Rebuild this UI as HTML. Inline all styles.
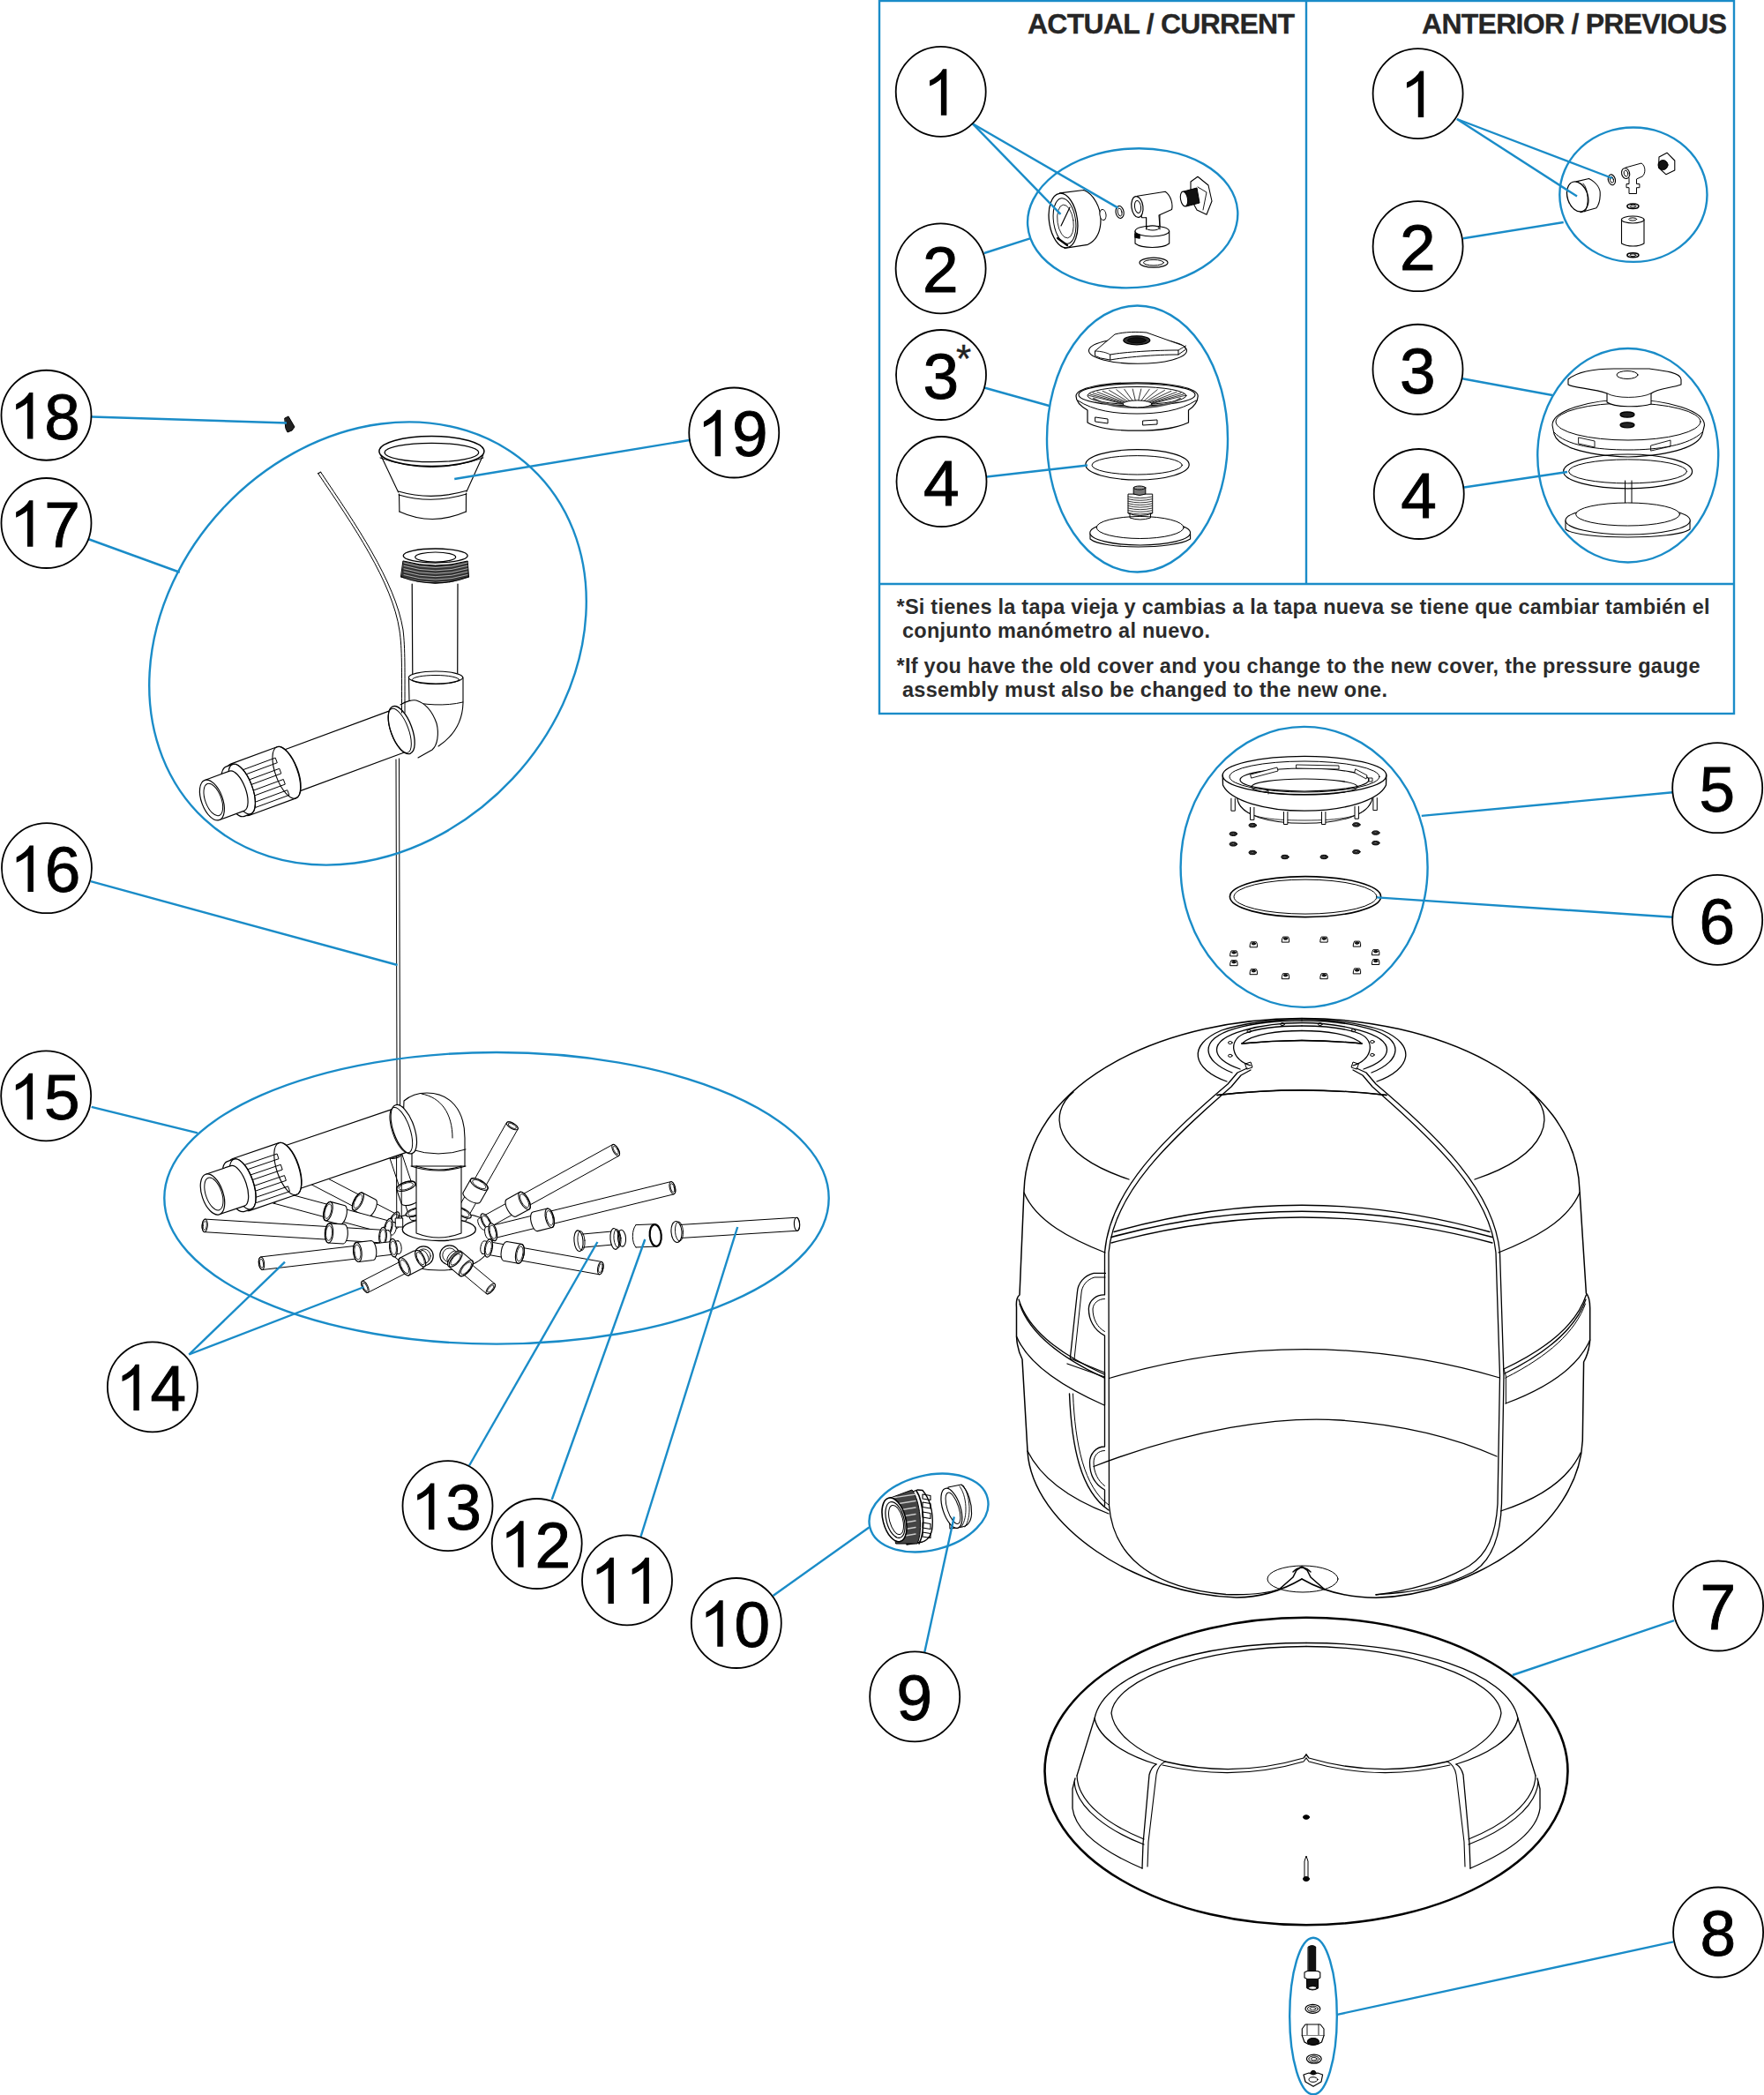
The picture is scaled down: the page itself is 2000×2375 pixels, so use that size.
<!DOCTYPE html>
<html><head><meta charset="utf-8"><style>
html,body{margin:0;padding:0;background:#fff;}
svg{display:block;}
.n{font-family:"Liberation Sans",sans-serif;font-size:73px;fill:#000;stroke:#000;stroke-width:0.9px;}
.h{font-family:"Liberation Sans",sans-serif;font-weight:bold;font-size:32px;fill:#262626;stroke:#262626;stroke-width:0.3px;}
.t{font-family:"Liberation Sans",sans-serif;font-weight:bold;font-size:23.5px;fill:#2b2b2b;}
</style></head><body>
<svg width="2000" height="2375" viewBox="0 0 2000 2375">

<g fill="none" stroke="#1a8cc8" stroke-width="2.4"><rect x="997" y="1" width="969" height="808"/><line x1="1481" y1="1" x2="1481" y2="662"/><line x1="997" y1="662" x2="1966" y2="662"/></g>
<text class="h" x="1165" y="38.3" textLength="303" lengthAdjust="spacing">ACTUAL / CURRENT</text>
<text class="h" x="1612" y="38.3" textLength="346" lengthAdjust="spacing">ANTERIOR / PREVIOUS</text>
<text class="t" x="1016.5" y="695.7" textLength="922" lengthAdjust="spacing">*Si tienes la tapa vieja y cambias a la tapa nueva se tiene que cambiar también el</text>
<text class="t" x="1023" y="722.5" textLength="349" lengthAdjust="spacing">conjunto manómetro al nuevo.</text>
<text class="t" x="1016.5" y="763.25" textLength="911" lengthAdjust="spacing">*If you have the old cover and you change to the new cover, the pressure gauge</text>
<text class="t" x="1023" y="790" textLength="550" lengthAdjust="spacing">assembly must also be changed to the new one.</text>
<g fill="none" stroke="#000" stroke-linejoin="round" stroke-linecap="round">
<path d="M1217,1238 C1188,1262 1193,1308 1280,1337" stroke-width="1.3" />
<path d="M1217,1238 C1188,1262 1193,1308 1280,1337" stroke-width="1.3" transform="translate(2952,0) scale(-1,1)"/>
<path d="M1161,1352 C1175,1385 1215,1405 1253,1420" stroke-width="1.3" />
<path d="M1161,1352 C1175,1385 1215,1405 1253,1420" stroke-width="1.3" transform="translate(2952,0) scale(-1,1)"/>
<path d="M1391,1226 C1352,1212 1345,1185 1385,1168 C1410,1160 1440,1156 1476,1155" stroke-width="1.3" />
<path d="M1391,1226 C1352,1212 1345,1185 1385,1168 C1410,1160 1440,1156 1476,1155" stroke-width="1.3" transform="translate(2952,0) scale(-1,1)"/>
<path d="M1397,1216 C1363,1203 1358,1178 1400,1166 C1425,1159 1450,1157 1476,1157" stroke-width="1.3" />
<path d="M1397,1216 C1363,1203 1358,1178 1400,1166 C1425,1159 1450,1157 1476,1157" stroke-width="1.3" transform="translate(2952,0) scale(-1,1)"/>
<path d="M1406,1212 C1372,1200 1368,1180 1410,1168 C1432,1162 1452,1159.5 1476,1159.5" stroke-width="1.3" />
<path d="M1406,1212 C1372,1200 1368,1180 1410,1168 C1432,1162 1452,1159.5 1476,1159.5" stroke-width="1.3" transform="translate(2952,0) scale(-1,1)"/>
<path d="M1418,1208 C1396,1201 1392,1180 1410,1172 C1430,1164 1455,1163 1476,1163" stroke-width="1.3" />
<path d="M1418,1208 C1396,1201 1392,1180 1410,1172 C1430,1164 1455,1163 1476,1163" stroke-width="1.3" transform="translate(2952,0) scale(-1,1)"/>
<path d="M1408,1183 C1420,1172 1450,1168.5 1476,1168.5" stroke-width="1.3" />
<path d="M1408,1183 C1420,1172 1450,1168.5 1476,1168.5" stroke-width="1.3" transform="translate(2952,0) scale(-1,1)"/>
<path d="M1408,1183 Q1440,1180 1476,1179.5" stroke-width="1.3" />
<path d="M1408,1183 Q1440,1180 1476,1179.5" stroke-width="1.3" transform="translate(2952,0) scale(-1,1)"/>
<path d="M1380,1241.5 Q1430,1236 1476,1236" stroke-width="1.3" />
<path d="M1380,1241.5 Q1430,1236 1476,1236" stroke-width="1.3" transform="translate(2952,0) scale(-1,1)"/>
<path d="M1412,1206 L1418,1204 L1420,1210 L1414,1212 Z" stroke-width="1.0" />
<path d="M1412,1206 L1418,1204 L1420,1210 L1414,1212 Z" stroke-width="1.0" transform="translate(2952,0) scale(-1,1)"/>
<path d="M1476,1154.5 C1330,1154 1165,1220 1161,1350 L1156,1468 C1152,1471 1152,1476 1152.5,1482 L1152.5,1515 C1153,1525 1156,1535 1159,1541 L1165,1645 C1170,1730 1290,1808 1402,1811 Q1440,1811 1476,1790" stroke-width="1.5" />
<path d="M1155,1473 C1165,1505 1195,1532 1252,1558" stroke-width="1.3" />
<path d="M1156,1478 C1166,1508 1196,1536 1252,1562" stroke-width="1.3" />
<path d="M1152.5,1515 C1165,1545 1200,1570 1252,1593" stroke-width="1.3" />
<path d="M1165,1645 C1180,1675 1210,1698 1257,1716" stroke-width="1.3" />
<path d="M1414,1211 L1403,1216 L1392,1229 C1320,1290 1258,1350 1252.5,1420 L1252.5,1440" stroke-width="1.3" />
<path d="M1418,1213 L1407,1219 L1396,1232 C1326,1293 1263,1352 1257,1420 L1257.5,1707" stroke-width="1.3" />
<path d="M1257.5,1707 C1262,1760 1300,1800 1390,1807.5 Q1430,1809 1452,1801" stroke-width="1.3" />
<path d="M1476,1154.5 C1622,1154 1787,1220 1791,1350 L1798.4,1466 C1802,1470 1802.7,1476 1802.7,1483 L1802.7,1519 C1802,1528 1799,1538 1795.6,1544 L1794.3,1633 C1790,1730 1670,1808 1560,1811.3 Q1512,1811 1476,1790" stroke-width="1.5" />
<path d="M1798.4,1468 C1788,1500 1758,1527 1705,1552" stroke-width="1.3" />
<path d="M1798,1473 C1787,1505 1757,1532 1706,1557" stroke-width="1.3" />
<path d="M1797.5,1478 C1786,1510 1756,1537 1707,1562" stroke-width="1.0" />
<path d="M1802.7,1519 C1790,1548 1758,1572 1707,1591" stroke-width="1.3" />
<path d="M1792,1647 C1778,1677 1748,1698 1701.5,1713" stroke-width="1.3" />
<path d="M1538,1211 L1549,1216 L1560,1229 C1632,1290 1694,1350 1700.5,1420 L1705,1560 L1702.5,1705 C1701,1745 1690,1770 1670,1782 C1640,1798 1600,1806 1560,1807.6" stroke-width="1.3" />
<path d="M1534,1213 L1545,1219 L1556,1232 C1626,1293 1689,1352 1696,1420 L1700.5,1560 L1698,1705 C1696,1740 1686,1762 1666,1775 C1636,1793 1600,1803 1560,1808" stroke-width="1.3" />
<path d="M1705,1552 L1707.4,1560 L1707.4,1591" stroke-width="1.0" />
<path d="M1263,1396.5 Q1476,1336 1689,1396.5" stroke-width="1.3" />
<path d="M1260,1402.5 Q1476,1344 1692,1402.5" stroke-width="1.6" />
<path d="M1260,1409 Q1476,1351 1692,1409" stroke-width="1.3" />
<path d="M1257.5,1562.5 Q1478,1497 1700.5,1562" stroke-width="1.3" />
<path d="M1240,1662.5 C1350,1620 1450,1605 1520,1610 C1590,1615 1650,1630 1697,1651" stroke-width="1.3" />
<path d="M1408,1183 Q1476,1176 1544,1183" stroke-width="1.3" />
<path d="M1380,1241.5 Q1476,1230 1572,1241.5" stroke-width="1.3" />
<path d="M1252.5,1440 L1252.5,1467.9 C1243,1467.5 1235,1474 1234.4,1483 C1234,1495 1240,1508 1252.5,1514.1 L1252.5,1640 C1243,1640 1235.5,1648 1235.5,1658 C1235.5,1672 1242,1683 1252.5,1689 L1252.5,1707" stroke-width="1.3" />
<path d="M1252.5,1472.5 C1245,1472.5 1239.5,1477.5 1239,1484 C1239,1495 1244,1505 1252.5,1509.5" stroke-width="1.0" />
<path d="M1252.5,1644.5 C1245,1644.5 1240,1650 1240,1658 C1240,1669 1245,1679 1252.5,1684.5" stroke-width="1.0" />
<path d="M1253.4,1443.4 L1240,1443.4 C1229,1446 1222,1455 1221.4,1465 L1213.3,1540 L1252.5,1556 L1252.5,1593" stroke-width="1.3" />
<path d="M1253,1448 L1241,1448 C1232,1450.5 1226.5,1458 1226,1466 L1218,1541" stroke-width="1.0" />
<path d="M1210,1546 L1252.5,1561" stroke-width="1.3" />
<path d="M1212.5,1580 C1215,1640 1225,1690 1257,1712" stroke-width="1.4" />
<path d="M1216.5,1580 C1219,1638 1229,1686 1257,1706" stroke-width="1.0" />
<ellipse cx="1394.8" cy="1182" rx="2.3" ry="1.5" stroke-width="1"/>
<ellipse cx="1394.8" cy="1196.8" rx="2.3" ry="1.5" stroke-width="1"/>
<ellipse cx="1416.2" cy="1169" rx="2.3" ry="1.5" stroke-width="1"/>
<ellipse cx="1454" cy="1161.1" rx="2.3" ry="1.5" stroke-width="1"/>
<ellipse cx="1496.8" cy="1161.1" rx="2.3" ry="1.5" stroke-width="1"/>
<ellipse cx="1534.4" cy="1168.3" rx="2.3" ry="1.5" stroke-width="1"/>
<ellipse cx="1555.9" cy="1181" rx="2.3" ry="1.5" stroke-width="1"/>
<ellipse cx="1555.9" cy="1195.9" rx="2.3" ry="1.5" stroke-width="1"/>
<ellipse cx="1477" cy="1790" rx="40" ry="15" stroke-width="1"/>
<path d="M1450,1802 L1466,1788 L1470,1780 L1476,1776 L1482,1780 L1486,1788 L1502,1802" stroke-width="1.6" />
<path d="M1466,1782 Q1476,1772 1486,1782" stroke-width="1.4" />
</g>
<g fill="none" stroke="#000" stroke-linejoin="round" stroke-linecap="round">
<ellipse cx="1481" cy="2008" rx="296.5" ry="174.3" stroke-width="2.6"/>
<path d="M1481,1862.5 C1360,1862.5 1252,1895 1241,1948 C1246,1972 1278,1990 1311,2000" stroke-width="1.3"/>
<path d="M1481,1862.5 C1360,1862.5 1252,1895 1241,1948 C1246,1972 1278,1990 1311,2000" stroke-width="1.3" transform="translate(2962,0) scale(-1,1)"/>
<path d="M1481,1866.5 C1366,1866.5 1264,1903 1260,1942 C1263,1966 1292,1986 1321,1997" stroke-width="1.3"/>
<path d="M1481,1866.5 C1366,1866.5 1264,1903 1260,1942 C1263,1966 1292,1986 1321,1997" stroke-width="1.3" transform="translate(2962,0) scale(-1,1)"/>
<path d="M1321,1997 Q1400,2016 1478,1993 L1481,1989" stroke-width="1.3"/>
<path d="M1321,1997 Q1400,2016 1478,1993 L1481,1989" stroke-width="1.3" transform="translate(2962,0) scale(-1,1)"/>
<path d="M1318,2001 Q1400,2020 1478,1997 L1481,1993" stroke-width="1.1"/>
<path d="M1318,2001 Q1400,2020 1478,1997 L1481,1993" stroke-width="1.1" transform="translate(2962,0) scale(-1,1)"/>
<path d="M1311,2000 C1306,2003 1304,2008 1303,2012 L1296,2090 L1295,2118" stroke-width="1.3"/>
<path d="M1311,2000 C1306,2003 1304,2008 1303,2012 L1296,2090 L1295,2118" stroke-width="1.3" transform="translate(2962,0) scale(-1,1)"/>
<path d="M1321,1997 C1315,2000 1312,2006 1311,2012 L1302,2088 L1301,2116" stroke-width="1.1"/>
<path d="M1321,1997 C1315,2000 1312,2006 1311,2012 L1302,2088 L1301,2116" stroke-width="1.1" transform="translate(2962,0) scale(-1,1)"/>
<path d="M1241,1948 L1221,2013" stroke-width="1.3"/>
<path d="M1241,1948 L1221,2013" stroke-width="1.3" transform="translate(2962,0) scale(-1,1)"/>
<path d="M1221,2013 C1222,2045 1260,2070 1297,2085" stroke-width="1.2"/>
<path d="M1221,2013 C1222,2045 1260,2070 1297,2085" stroke-width="1.2" transform="translate(2962,0) scale(-1,1)"/>
<path d="M1218,2020 C1220,2050 1258,2076 1297,2091" stroke-width="1.2"/>
<path d="M1218,2020 C1220,2050 1258,2076 1297,2091" stroke-width="1.2" transform="translate(2962,0) scale(-1,1)"/>
<path d="M1219,2016 L1216,2028 L1216,2050 C1220,2080 1260,2103 1295,2118" stroke-width="1.3"/>
<path d="M1219,2016 L1216,2028 L1216,2050 C1220,2080 1260,2103 1295,2118" stroke-width="1.3" transform="translate(2962,0) scale(-1,1)"/>
<ellipse cx="1481" cy="2060" rx="3.5" ry="2.3" fill="#000" stroke-width="1"/>
<path d="M1479,2128 L1479,2110 L1481,2104 L1483,2110 L1483,2128" stroke-width="1"/>
<ellipse cx="1481" cy="2130" rx="3.5" ry="2.5" fill="#000" stroke-width="1"/>
</g><g fill="none" stroke="#000" stroke-linejoin="round" stroke-linecap="round">
<ellipse cx="489.4" cy="511.5" rx="59.5" ry="17" transform="rotate(0 489.4 511.5)" stroke-width="1.5" fill="none"/>
<ellipse cx="489.4" cy="513" rx="53.3" ry="10.7" transform="rotate(0 489.4 513)" stroke-width="1.2" fill="none"/>
<path d="M431,519 Q489,540 548,519" stroke-width="1.0" />
<path d="M431.7,516 L451.6,558" stroke-width="1.1" />
<path d="M547.7,516 L529,557.3" stroke-width="1.1" />
<path d="M451.6,557 Q489.4,568 529,556.3" stroke-width="1.1" />
<path d="M452,561 Q489.4,572 529,560" stroke-width="1.1" />
<path d="M452.5,560 L452.9,580" stroke-width="1.1" />
<path d="M528.5,559 L528.4,580" stroke-width="1.1" />
<path d="M452.9,580 Q490,597 528.4,580" stroke-width="1.2" />
<ellipse cx="493.7" cy="630" rx="36.5" ry="8" transform="rotate(0 493.7 630)" stroke-width="1.3" fill="none"/>
<ellipse cx="493.7" cy="631.5" rx="23" ry="5.5" transform="rotate(0 493.7 631.5)" stroke-width="1.2" fill="none"/>
<path d="M457.3,636 Q493.7,646 530.2,636 L531.5,654 Q493.7,668 454.8,654 Z" fill="#333" stroke-width="1"/>
<path d="M458,638.0 Q493.7,649.0 530,638.0" stroke-width="0.6" stroke="#fff"/>
<path d="M458,641.4 Q493.7,652.4 530,641.4" stroke-width="0.6" stroke="#fff"/>
<path d="M458,644.8 Q493.7,655.8 530,644.8" stroke-width="0.6" stroke="#fff"/>
<path d="M458,648.2 Q493.7,659.2 530,648.2" stroke-width="0.6" stroke="#fff"/>
<path d="M458,651.6 Q493.7,662.6 530,651.6" stroke-width="0.6" stroke="#fff"/>
<path d="M458,655.0 Q493.7,666.0 530,655.0" stroke-width="0.6" stroke="#fff"/>
<path d="M458,658.4 Q493.7,669.4 530,658.4" stroke-width="0.6" stroke="#fff"/>
<path d="M454.8,654 Q493.7,668 531.5,654" stroke-width="1.3" />
<path d="M467.2,662 L467.8,766" stroke-width="1.2" />
<path d="M519,662 L518.7,766" stroke-width="1.2" />
<path d="M463.5,768 L463.5,796 C458,800 452,802 448,806 L470,860 C480,858 492,852 500,845 C515,840 525,820 525,796 L525,768 Z" stroke-width="1.0" fill="#fff" stroke="none"/>
<path d="M463.5,768 L464,795" stroke-width="1.1" />
<path d="M525,768 L525,797 C524.5,815 518,832 497,846" stroke-width="1.1" />
<path d="M464,795 C480,799 505,801 524.8,796" stroke-width="1.0" />
<ellipse cx="494" cy="768" rx="30.7" ry="7" transform="rotate(0 494 768)" stroke-width="1.2" fill="#fff"/>
<ellipse cx="494" cy="770.5" rx="26.5" ry="5" transform="rotate(0 494 770.5)" stroke-width="1.0" fill="none"/>
<path d="M454,799 C460,795 468,793 472,794 C482,797 490,806 495,820 C498,832 496,845 490,850 L474,859" stroke-width="1.1" fill="#fff"/>
<path d="M331.6,899.9 L461.0,852.0 A10.5,25.0 -20.3 0 0 443.7,805.1 L314.3,853.0 A10.5,25.0 -20.3 0 0 331.6,899.9 Z" fill="#fff" stroke-width="1.2"/>
<path d="M283.0,924.3 L335.6,904.9 A13.0,31.0 -20.3 0 0 314.1,846.7 L261.5,866.1 A13.0,31.0 -20.3 0 0 283.0,924.3 Z" fill="#fff" stroke-width="1.2"/>
<ellipse cx="324.8" cy="875.8" rx="12.4" ry="31.0" transform="rotate(-20.3 324.8 875.8)" stroke-width="1.1" fill="none"/>
<path d="M274.7,873.0 L312.2,859.1 L314.3,864.7 L276.8,878.6 Z" stroke-width="1.0" />
<path d="M279.2,885.2 L316.8,871.3 L318.8,876.9 L281.3,890.8 Z" stroke-width="1.0" />
<path d="M283.7,897.4 L321.3,883.5 L323.3,889.1 L285.8,903.0 Z" stroke-width="1.0" />
<path d="M288.3,909.6 L325.8,895.7 L327.9,901.3 L290.3,915.2 Z" stroke-width="1.0" />
<path d="M277.1,925.4 L284.6,922.6 A12.6,30.0 -20.3 0 0 263.8,866.4 L256.3,869.1 A12.6,30.0 -20.3 0 0 277.1,925.4 Z" fill="#fff" stroke-width="1.2"/>
<ellipse cx="274.2" cy="894.5" rx="12.0" ry="30.0" transform="rotate(-20.3 274.2 894.5)" stroke-width="1.1" fill="none"/>
<path d="M248.7,929.5 L276.9,919.1 A10.1,24.0 -20.3 0 0 260.2,874.1 L232.1,884.5 A10.1,24.0 -20.3 0 0 248.7,929.5 Z" fill="#fff" stroke-width="1.2"/>
<ellipse cx="240.4" cy="907.0" rx="12.0" ry="24.0" transform="rotate(-20.3 240.4 907.0)" stroke-width="1.2" fill="#fff"/>
<ellipse cx="241.8" cy="906.5" rx="9.1" ry="19.2" transform="rotate(-20.3 241.8 906.5)" stroke-width="1.0" fill="none"/>
<ellipse cx="455.2" cy="827.6" rx="12.0" ry="28.5" transform="rotate(-20.3 455.2 827.6)" stroke-width="1.3" fill="#fff"/>
<ellipse cx="453.2" cy="828.3" rx="10.0" ry="26.5" transform="rotate(-20.3 453.2 828.3)" stroke-width="1.0" fill="none"/>
<path d="M360.6,536.7 C400,595 445,660 453,715 C456,735 455.5,760 455.5,808" stroke-width="1.0" />
<path d="M363.6,535.2 C403,594 448,659 457,714 C459.5,735 459,760 459,808" stroke-width="1.0" />
<path d="M360.6,536.7 L363.6,535.2" stroke-width="1.2" />
<path d="M449,861 L450.2,1292" stroke-width="1.0" />
<path d="M452.5,860 L453.7,1290" stroke-width="1.0" />
</g><g fill="none" stroke="#000" stroke-linejoin="round" stroke-linecap="round">
<path d="M323,474 L327,472 L334,484 L331,488 L326,490 L324,486 Z" fill="#222" stroke-width="1"/>
<path d="M437,1395 C440,1378 470,1374 498,1374 C526,1374 556,1378 559,1395 L559,1402 C556,1430 530,1440 498,1440 C466,1440 440,1430 437,1402 Z" fill="#fff" stroke-width="1.1"/>
<path d="M478.9,1377.7 L455.5,1307.5 A3.1,7.3 -108.4 0 0 441.7,1312.1 L465.1,1382.3 A3.1,7.3 -108.4 0 0 478.9,1377.7 Z" fill="#fff" stroke-width="1.0"/>
<ellipse cx="448.6" cy="1309.8" rx="3.1" ry="7.3" transform="rotate(-108.4 448.6 1309.8)" stroke-width="1.0" fill="none"/>
<ellipse cx="448.6" cy="1309.8" rx="2.0" ry="5.1" transform="rotate(-108.4 448.6 1309.8)" stroke-width="0.8" fill="none"/>
<path d="M476.2,1357.4 L470.8,1341.3 A4.7,11.1 -108.4 0 0 449.7,1348.3 L455.1,1364.4 A4.7,11.1 -108.4 0 0 476.2,1357.4 Z" fill="#fff" stroke-width="1.1"/>
<ellipse cx="460.3" cy="1344.8" rx="4.7" ry="11.1" transform="rotate(-108.4 460.3 1344.8)" stroke-width="1.1" fill="none"/>
<ellipse cx="460.3" cy="1344.8" rx="3.5" ry="8.5" transform="rotate(-108.4 460.3 1344.8)" stroke-width="0.8" fill="none"/>
<ellipse cx="470.1" cy="1374.3" rx="4.3" ry="10.3" transform="rotate(-108.4 470.1 1374.3)" stroke-width="1.2" fill="#fff"/>
<ellipse cx="470.1" cy="1374.3" rx="3.3" ry="7.8" transform="rotate(-108.4 470.1 1374.3)" stroke-width="0.8" fill="none"/>
<path d="M528.4,1383.6 L587.2,1279.9 A3.1,7.3 -60.4 0 0 574.4,1272.7 L515.6,1376.4 A3.1,7.3 -60.4 0 0 528.4,1383.6 Z" fill="#fff" stroke-width="1.0"/>
<ellipse cx="580.8" cy="1276.3" rx="3.1" ry="7.3" transform="rotate(-60.4 580.8 1276.3)" stroke-width="1.0" fill="none"/>
<ellipse cx="580.8" cy="1276.3" rx="2.0" ry="5.1" transform="rotate(-60.4 580.8 1276.3)" stroke-width="0.8" fill="none"/>
<path d="M544.5,1362.8 L552.9,1348.0 A4.7,11.1 -60.4 0 0 533.6,1337.0 L525.2,1351.8 A4.7,11.1 -60.4 0 0 544.5,1362.8 Z" fill="#fff" stroke-width="1.1"/>
<ellipse cx="543.3" cy="1342.5" rx="4.7" ry="11.1" transform="rotate(-60.4 543.3 1342.5)" stroke-width="1.1" fill="none"/>
<ellipse cx="543.3" cy="1342.5" rx="3.5" ry="8.5" transform="rotate(-60.4 543.3 1342.5)" stroke-width="0.8" fill="none"/>
<ellipse cx="525.0" cy="1374.8" rx="4.3" ry="10.3" transform="rotate(-60.4 525.0 1374.8)" stroke-width="1.2" fill="#fff"/>
<ellipse cx="525.0" cy="1374.8" rx="3.3" ry="7.8" transform="rotate(-60.4 525.0 1374.8)" stroke-width="0.8" fill="none"/>
<path d="M455.4,1379.5 L353.4,1326.5 A3.1,7.3 -152.5 0 0 346.6,1339.5 L448.6,1392.5 A3.1,7.3 -152.5 0 0 455.4,1379.5 Z" fill="#fff" stroke-width="1.0"/>
<ellipse cx="350.0" cy="1333.0" rx="3.1" ry="7.3" transform="rotate(-152.5 350.0 1333.0)" stroke-width="1.0" fill="none"/>
<ellipse cx="350.0" cy="1333.0" rx="2.0" ry="5.1" transform="rotate(-152.5 350.0 1333.0)" stroke-width="0.8" fill="none"/>
<path d="M426.1,1360.0 L411.0,1352.2 A4.7,11.1 -152.5 0 0 400.8,1371.9 L415.9,1379.7 A4.7,11.1 -152.5 0 0 426.1,1360.0 Z" fill="#fff" stroke-width="1.1"/>
<ellipse cx="405.9" cy="1362.0" rx="4.7" ry="11.1" transform="rotate(-152.5 405.9 1362.0)" stroke-width="1.1" fill="none"/>
<ellipse cx="405.9" cy="1362.0" rx="3.5" ry="8.5" transform="rotate(-152.5 405.9 1362.0)" stroke-width="0.8" fill="none"/>
<ellipse cx="446.7" cy="1383.2" rx="4.3" ry="10.3" transform="rotate(-152.5 446.7 1383.2)" stroke-width="1.2" fill="#fff"/>
<ellipse cx="446.7" cy="1383.2" rx="3.3" ry="7.8" transform="rotate(-152.5 446.7 1383.2)" stroke-width="0.8" fill="none"/>
<path d="M447.9,1385.9 L313.9,1349.9 A3.1,7.3 -165.0 0 0 310.1,1364.1 L444.1,1400.1 A3.1,7.3 -165.0 0 0 447.9,1385.9 Z" fill="#fff" stroke-width="1.0"/>
<ellipse cx="312.0" cy="1357.0" rx="3.1" ry="7.3" transform="rotate(-165.0 312.0 1357.0)" stroke-width="1.0" fill="none"/>
<ellipse cx="312.0" cy="1357.0" rx="2.0" ry="5.1" transform="rotate(-165.0 312.0 1357.0)" stroke-width="0.8" fill="none"/>
<path d="M391.2,1366.8 L374.8,1362.4 A4.7,11.1 -165.0 0 0 369.1,1383.8 L385.5,1388.2 A4.7,11.1 -165.0 0 0 391.2,1366.8 Z" fill="#fff" stroke-width="1.1"/>
<ellipse cx="371.9" cy="1373.1" rx="4.7" ry="11.1" transform="rotate(-165.0 371.9 1373.1)" stroke-width="1.1" fill="none"/>
<ellipse cx="371.9" cy="1373.1" rx="3.5" ry="8.5" transform="rotate(-165.0 371.9 1373.1)" stroke-width="0.8" fill="none"/>
<ellipse cx="440.2" cy="1391.4" rx="4.3" ry="10.3" transform="rotate(-165.0 440.2 1391.4)" stroke-width="1.2" fill="#fff"/>
<ellipse cx="440.2" cy="1391.4" rx="3.3" ry="7.8" transform="rotate(-165.0 440.2 1391.4)" stroke-width="0.8" fill="none"/>
<path d="M549.5,1394.4 L701.7,1310.3 A3.1,7.3 -28.9 0 0 694.7,1297.5 L542.5,1381.6 A3.1,7.3 -28.9 0 0 549.5,1394.4 Z" fill="#fff" stroke-width="1.0"/>
<ellipse cx="698.2" cy="1303.9" rx="3.1" ry="7.3" transform="rotate(-28.9 698.2 1303.9)" stroke-width="1.0" fill="none"/>
<ellipse cx="698.2" cy="1303.9" rx="2.0" ry="5.1" transform="rotate(-28.9 698.2 1303.9)" stroke-width="0.8" fill="none"/>
<path d="M585.1,1379.1 L600.0,1370.9 A4.7,11.1 -28.9 0 0 589.2,1351.4 L574.3,1359.7 A4.7,11.1 -28.9 0 0 585.1,1379.1 Z" fill="#fff" stroke-width="1.1"/>
<ellipse cx="594.6" cy="1361.2" rx="4.7" ry="11.1" transform="rotate(-28.9 594.6 1361.2)" stroke-width="1.1" fill="none"/>
<ellipse cx="594.6" cy="1361.2" rx="3.5" ry="8.5" transform="rotate(-28.9 594.6 1361.2)" stroke-width="0.8" fill="none"/>
<ellipse cx="551.3" cy="1385.1" rx="4.3" ry="10.3" transform="rotate(-28.9 551.3 1385.1)" stroke-width="1.2" fill="#fff"/>
<ellipse cx="551.3" cy="1385.1" rx="3.3" ry="7.8" transform="rotate(-28.9 551.3 1385.1)" stroke-width="0.8" fill="none"/>
<path d="M554.7,1405.1 L764.1,1353.8 A3.1,7.3 -13.8 0 0 760.7,1339.6 L551.3,1390.9 A3.1,7.3 -13.8 0 0 554.7,1405.1 Z" fill="#fff" stroke-width="1.0"/>
<ellipse cx="762.4" cy="1346.7" rx="3.1" ry="7.3" transform="rotate(-13.8 762.4 1346.7)" stroke-width="1.0" fill="none"/>
<ellipse cx="762.4" cy="1346.7" rx="2.0" ry="5.1" transform="rotate(-13.8 762.4 1346.7)" stroke-width="0.8" fill="none"/>
<path d="M609.5,1395.6 L626.0,1391.5 A4.7,11.1 -13.8 0 0 620.7,1370.0 L604.2,1374.0 A4.7,11.1 -13.8 0 0 609.5,1395.6 Z" fill="#fff" stroke-width="1.1"/>
<ellipse cx="623.3" cy="1380.8" rx="4.7" ry="11.1" transform="rotate(-13.8 623.3 1380.8)" stroke-width="1.1" fill="none"/>
<ellipse cx="623.3" cy="1380.8" rx="3.5" ry="8.5" transform="rotate(-13.8 623.3 1380.8)" stroke-width="0.8" fill="none"/>
<ellipse cx="558.8" cy="1396.6" rx="4.3" ry="10.3" transform="rotate(-13.8 558.8 1396.6)" stroke-width="1.2" fill="#fff"/>
<ellipse cx="558.8" cy="1396.6" rx="3.3" ry="7.8" transform="rotate(-13.8 558.8 1396.6)" stroke-width="0.8" fill="none"/>
<ellipse cx="497.8" cy="1393.7" rx="41.6" ry="12.8" transform="rotate(0.0 497.8 1393.7)" stroke-width="1.3" fill="#fff"/>
<path d="M449.5,1290 L449.8,1390" stroke-width="1.0" />
<path d="M455,1290 L455.3,1390" stroke-width="1.0" />
<path d="M448.6,1381 L456.7,1381 L456.7,1391 L448.6,1391 Z" stroke-width="1.0" fill="#fff"/>
<path d="M332.6,1350.0 L468.9,1303.6 A10.8,25.7 -18.8 0 0 452.3,1254.9 L316.0,1301.3 A10.8,25.7 -18.8 0 0 332.6,1350.0 Z" fill="#fff" stroke-width="1.2"/>
<path d="M283.2,1372.4 L336.2,1354.3 A13.0,31.0 -18.8 0 0 316.2,1295.6 L263.2,1313.7 A13.0,31.0 -18.8 0 0 283.2,1372.4 Z" fill="#fff" stroke-width="1.2"/>
<ellipse cx="326.2" cy="1325.0" rx="12.4" ry="31.0" transform="rotate(-18.8 326.2 1325.0)" stroke-width="1.1" fill="none"/>
<path d="M276.2,1320.9 L314.1,1308.0 L316.0,1313.7 L278.1,1326.6 Z" stroke-width="1.0" />
<path d="M280.4,1333.2 L318.3,1320.3 L320.2,1326.0 L282.3,1338.9 Z" stroke-width="1.0" />
<path d="M284.6,1345.5 L322.5,1332.6 L324.4,1338.3 L286.5,1351.2 Z" stroke-width="1.0" />
<path d="M288.8,1357.8 L326.6,1344.9 L328.6,1350.6 L290.7,1363.5 Z" stroke-width="1.0" />
<path d="M277.2,1373.4 L284.7,1370.8 A12.6,30.0 -18.8 0 0 265.4,1314.0 L257.8,1316.6 A12.6,30.0 -18.8 0 0 277.2,1373.4 Z" fill="#fff" stroke-width="1.2"/>
<ellipse cx="275.1" cy="1342.4" rx="12.0" ry="30.0" transform="rotate(-18.8 275.1 1342.4)" stroke-width="1.1" fill="none"/>
<path d="M248.7,1376.7 L277.1,1367.1 A10.1,24.0 -18.8 0 0 261.7,1321.6 L233.3,1331.3 A10.1,24.0 -18.8 0 0 248.7,1376.7 Z" fill="#fff" stroke-width="1.2"/>
<ellipse cx="241.0" cy="1354.0" rx="12.0" ry="24.0" transform="rotate(-18.8 241.0 1354.0)" stroke-width="1.2" fill="#fff"/>
<ellipse cx="242.4" cy="1353.5" rx="9.1" ry="19.2" transform="rotate(-18.8 242.4 1353.5)" stroke-width="1.0" fill="none"/>
<path d="M458,1248 C466,1241 474,1239 484,1239 C510,1239 527,1258 527,1290 L527,1322 L467,1322 L467,1306 C462,1302 456,1290 458,1248 Z" stroke-width="1.1" fill="#fff"/>
<path d="M478,1240 C500,1244 513,1262 513,1290" stroke-width="1.0" />
<path d="M466,1303 Q497,1313 528,1303" stroke-width="1.0" />
<ellipse cx="457.8" cy="1280.2" rx="12.0" ry="29.0" transform="rotate(-18.8 457.8 1280.2)" stroke-width="1.2" fill="#fff"/>
<ellipse cx="454.8" cy="1281.2" rx="10.0" ry="27.0" transform="rotate(-18.8 454.8 1281.2)" stroke-width="1.0" fill="none"/>
<path d="M472,1322 L472,1398 Q497.5,1408 523,1398 L523,1322 Q497.5,1330 472,1322 Z" stroke-width="1.1" fill="#fff"/>
<path d="M466,1322 Q497,1332 528,1322" stroke-width="1.1" />
<ellipse cx="480.2" cy="1423.9" rx="11.0" ry="11.0" transform="rotate(0.0 480.2 1423.9)" stroke-width="1.2" fill="#fff"/>
<ellipse cx="480.2" cy="1423.9" rx="8.0" ry="8.0" transform="rotate(0.0 480.2 1423.9)" stroke-width="0.9" fill="none"/>
<ellipse cx="509.8" cy="1422.9" rx="11.0" ry="11.0" transform="rotate(0.0 509.8 1422.9)" stroke-width="1.2" fill="#fff"/>
<ellipse cx="509.8" cy="1422.9" rx="8.0" ry="8.0" transform="rotate(0.0 509.8 1422.9)" stroke-width="0.9" fill="none"/>
<path d="M440.4,1394.7 L232.6,1382.1 A3.1,7.3 -176.5 0 0 231.8,1396.7 L439.6,1409.3 A3.1,7.3 -176.5 0 0 440.4,1394.7 Z" fill="#fff" stroke-width="1.0"/>
<ellipse cx="232.2" cy="1389.4" rx="3.1" ry="7.3" transform="rotate(-176.5 232.2 1389.4)" stroke-width="1.0" fill="none"/>
<ellipse cx="232.2" cy="1389.4" rx="2.0" ry="5.1" transform="rotate(-176.5 232.2 1389.4)" stroke-width="0.8" fill="none"/>
<path d="M390.6,1387.9 L373.6,1386.9 A4.7,11.1 -176.5 0 0 372.3,1409.0 L389.3,1410.0 A4.7,11.1 -176.5 0 0 390.6,1387.9 Z" fill="#fff" stroke-width="1.1"/>
<ellipse cx="373.0" cy="1397.9" rx="4.7" ry="11.1" transform="rotate(-176.5 373.0 1397.9)" stroke-width="1.1" fill="none"/>
<ellipse cx="373.0" cy="1397.9" rx="3.5" ry="8.5" transform="rotate(-176.5 373.0 1397.9)" stroke-width="0.8" fill="none"/>
<ellipse cx="434.0" cy="1401.6" rx="4.3" ry="10.3" transform="rotate(-176.5 434.0 1401.6)" stroke-width="1.2" fill="#fff"/>
<ellipse cx="434.0" cy="1401.6" rx="3.3" ry="7.8" transform="rotate(-176.5 434.0 1401.6)" stroke-width="0.8" fill="none"/>
<path d="M451.2,1406.7 L295.7,1424.9 A3.1,7.3 173.3 0 0 297.3,1439.5 L452.8,1421.3 A3.1,7.3 173.3 0 0 451.2,1406.7 Z" fill="#fff" stroke-width="1.0"/>
<ellipse cx="296.5" cy="1432.2" rx="3.1" ry="7.3" transform="rotate(173.3 296.5 1432.2)" stroke-width="1.0" fill="none"/>
<ellipse cx="296.5" cy="1432.2" rx="2.0" ry="5.1" transform="rotate(173.3 296.5 1432.2)" stroke-width="0.8" fill="none"/>
<path d="M421.0,1406.5 L404.1,1408.4 A4.7,11.1 173.3 0 0 406.7,1430.5 L423.6,1428.5 A4.7,11.1 173.3 0 0 421.0,1406.5 Z" fill="#fff" stroke-width="1.1"/>
<ellipse cx="405.4" cy="1419.5" rx="4.7" ry="11.1" transform="rotate(173.3 405.4 1419.5)" stroke-width="1.1" fill="none"/>
<ellipse cx="405.4" cy="1419.5" rx="3.5" ry="8.5" transform="rotate(173.3 405.4 1419.5)" stroke-width="0.8" fill="none"/>
<ellipse cx="446.0" cy="1414.7" rx="4.3" ry="10.3" transform="rotate(173.3 446.0 1414.7)" stroke-width="1.2" fill="#fff"/>
<ellipse cx="446.0" cy="1414.7" rx="3.3" ry="7.8" transform="rotate(173.3 446.0 1414.7)" stroke-width="0.8" fill="none"/>
<path d="M546.7,1421.2 L679.5,1444.8 A3.1,7.3 10.1 0 0 682.1,1430.4 L549.3,1406.8 A3.1,7.3 10.1 0 0 546.7,1421.2 Z" fill="#fff" stroke-width="1.0"/>
<ellipse cx="680.8" cy="1437.6" rx="3.1" ry="7.3" transform="rotate(10.1 680.8 1437.6)" stroke-width="1.0" fill="none"/>
<ellipse cx="680.8" cy="1437.6" rx="2.0" ry="5.1" transform="rotate(10.1 680.8 1437.6)" stroke-width="0.8" fill="none"/>
<path d="M570.8,1429.3 L587.5,1432.3 A4.7,11.1 10.1 0 0 591.4,1410.4 L574.6,1407.5 A4.7,11.1 10.1 0 0 570.8,1429.3 Z" fill="#fff" stroke-width="1.1"/>
<ellipse cx="589.4" cy="1421.4" rx="4.7" ry="11.1" transform="rotate(10.1 589.4 1421.4)" stroke-width="1.1" fill="none"/>
<ellipse cx="589.4" cy="1421.4" rx="3.5" ry="8.5" transform="rotate(10.1 589.4 1421.4)" stroke-width="0.8" fill="none"/>
<ellipse cx="553.9" cy="1415.0" rx="4.3" ry="10.3" transform="rotate(10.1 553.9 1415.0)" stroke-width="1.2" fill="#fff"/>
<ellipse cx="553.9" cy="1415.0" rx="3.3" ry="7.8" transform="rotate(10.1 553.9 1415.0)" stroke-width="0.8" fill="none"/>
<path d="M478.7,1417.5 L410.6,1452.3 A3.1,7.3 152.9 0 0 417.2,1465.3 L485.3,1430.5 A3.1,7.3 152.9 0 0 478.7,1417.5 Z" fill="#fff" stroke-width="1.0"/>
<ellipse cx="413.9" cy="1458.8" rx="3.1" ry="7.3" transform="rotate(152.9 413.9 1458.8)" stroke-width="1.0" fill="none"/>
<ellipse cx="413.9" cy="1458.8" rx="2.0" ry="5.1" transform="rotate(152.9 413.9 1458.8)" stroke-width="0.8" fill="none"/>
<path d="M468.8,1418.3 L453.6,1426.0 A4.7,11.1 152.9 0 0 463.7,1445.8 L478.9,1438.1 A4.7,11.1 152.9 0 0 468.8,1418.3 Z" fill="#fff" stroke-width="1.1"/>
<ellipse cx="458.7" cy="1435.9" rx="4.7" ry="11.1" transform="rotate(152.9 458.7 1435.9)" stroke-width="1.1" fill="none"/>
<ellipse cx="458.7" cy="1435.9" rx="3.5" ry="8.5" transform="rotate(152.9 458.7 1435.9)" stroke-width="0.8" fill="none"/>
<ellipse cx="476.7" cy="1426.7" rx="4.3" ry="10.3" transform="rotate(152.9 476.7 1426.7)" stroke-width="1.2" fill="#fff"/>
<ellipse cx="476.7" cy="1426.7" rx="3.3" ry="7.8" transform="rotate(152.9 476.7 1426.7)" stroke-width="0.8" fill="none"/>
<path d="M507.3,1429.6 L551.6,1466.6 A3.1,7.3 39.9 0 0 561.0,1455.4 L516.7,1418.4 A3.1,7.3 39.9 0 0 507.3,1429.6 Z" fill="#fff" stroke-width="1.0"/>
<ellipse cx="556.3" cy="1461.0" rx="3.1" ry="7.3" transform="rotate(39.9 556.3 1461.0)" stroke-width="1.0" fill="none"/>
<ellipse cx="556.3" cy="1461.0" rx="2.0" ry="5.1" transform="rotate(39.9 556.3 1461.0)" stroke-width="0.8" fill="none"/>
<path d="M508.3,1435.4 L521.4,1446.3 A4.7,11.1 39.9 0 0 535.6,1429.3 L522.6,1418.4 A4.7,11.1 39.9 0 0 508.3,1435.4 Z" fill="#fff" stroke-width="1.1"/>
<ellipse cx="528.5" cy="1437.8" rx="4.7" ry="11.1" transform="rotate(39.9 528.5 1437.8)" stroke-width="1.1" fill="none"/>
<ellipse cx="528.5" cy="1437.8" rx="3.5" ry="8.5" transform="rotate(39.9 528.5 1437.8)" stroke-width="0.8" fill="none"/>
<ellipse cx="516.6" cy="1427.8" rx="4.3" ry="10.3" transform="rotate(39.9 516.6 1427.8)" stroke-width="1.2" fill="#fff"/>
<ellipse cx="516.6" cy="1427.8" rx="3.3" ry="7.8" transform="rotate(39.9 516.6 1427.8)" stroke-width="0.8" fill="none"/>
<path d="M656.7,1414.5 L700.7,1410.5 A3.1,7.5 -5.2 0 0 699.3,1395.5 L655.3,1399.5 A3.1,7.5 -5.2 0 0 656.7,1414.5 Z" fill="#fff" stroke-width="1.1"/>
<ellipse cx="656.0" cy="1406.8" rx="5.0" ry="12.0" transform="rotate(-5.0 656.0 1406.8)" stroke-width="1.1" fill="#fff"/>
<ellipse cx="659.0" cy="1406.5" rx="4.0" ry="11.0" transform="rotate(-5.0 659.0 1406.5)" stroke-width="0.9" fill="none"/>
<ellipse cx="697.0" cy="1404.4" rx="5.0" ry="12.0" transform="rotate(-5.0 697.0 1404.4)" stroke-width="1.1" fill="#fff"/>
<ellipse cx="700.0" cy="1404.0" rx="4.0" ry="10.5" transform="rotate(-5.0 700.0 1404.0)" stroke-width="0.9" fill="none"/>
<ellipse cx="705.0" cy="1403.7" rx="4.5" ry="9.5" transform="rotate(-5.0 705.0 1403.7)" stroke-width="1.1" fill="none"/>
<path d="M721,1388.6 L741.6,1387.8" stroke-width="1.0" />
<path d="M721,1414 L741.6,1413.2" stroke-width="1.0" />
<path d="M721,1388.6 C716,1394 716,1409 721,1414" stroke-width="1.0" />
<ellipse cx="743.2" cy="1400.5" rx="6.5" ry="12.5" transform="rotate(-5.0 743.2 1400.5)" stroke-width="2.2" fill="none"/>
<path d="M767.5,1403.7 L904.0,1395.3 A3.1,7.5 -3.5 0 0 903.0,1380.3 L766.5,1388.7 A3.1,7.5 -3.5 0 0 767.5,1403.7 Z" fill="#fff" stroke-width="1.1"/>
<ellipse cx="903.5" cy="1387.8" rx="3.1" ry="7.5" transform="rotate(-3.5 903.5 1387.8)" stroke-width="1.1" fill="none"/>
<ellipse cx="767.0" cy="1396.5" rx="6.0" ry="12.0" transform="rotate(-4.0 767.0 1396.5)" stroke-width="1.1" fill="#fff"/>
<ellipse cx="770.0" cy="1396.0" rx="4.5" ry="11.0" transform="rotate(-4.0 770.0 1396.0)" stroke-width="0.9" fill="none"/>
</g><g fill="none" stroke="#000" stroke-linejoin="round" stroke-linecap="round">
<path d="M1201.5,218.9 L1228.8,215.5 C1240,220 1248,235 1248,249 C1248,262 1244,272 1233.3,277.3 L1207,281.3 Z" stroke-width="1.2" fill="#fff"/>
<ellipse cx="1205.5" cy="250.0" rx="16.0" ry="31.0" transform="rotate(-8.0 1205.5 250.0)" stroke-width="1.3" fill="#fff"/>
<ellipse cx="1207.0" cy="250.5" rx="12.5" ry="26.0" transform="rotate(-8.0 1207.0 250.5)" stroke-width="1.0" fill="none"/>
<ellipse cx="1208.0" cy="251.0" rx="9.0" ry="19.0" transform="rotate(-8.0 1208.0 251.0)" stroke-width="0.8" fill="none"/>
<path d="M1203,256 L1213,235" stroke-width="1.2" />
<path d="M1199,270 L1210,278" stroke-width="2.2" />
<ellipse cx="1250.5" cy="243.5" rx="3.5" ry="6.0" transform="rotate(-8.0 1250.5 243.5)" stroke-width="1.0" fill="#fff"/>
<ellipse cx="1269.6" cy="240.5" rx="4.5" ry="7.0" transform="rotate(-10.0 1269.6 240.5)" stroke-width="1.1" fill="none"/>
<ellipse cx="1269.6" cy="240.5" rx="2.3" ry="4.5" transform="rotate(-10.0 1269.6 240.5)" stroke-width="0.9" fill="none"/>
<path d="M1289.4,222.3 L1321.2,217.2 C1328,222 1330,232 1328.5,237.6 L1314,243.9 L1315,256.9 L1299.6,256.9 L1299.6,246.7 L1294.5,246.7 Z" stroke-width="1.1" fill="#fff"/>
<ellipse cx="1289.4" cy="234.5" rx="6.5" ry="12.0" transform="rotate(-8.0 1289.4 234.5)" stroke-width="1.2" fill="#fff"/>
<ellipse cx="1290.0" cy="234.5" rx="3.5" ry="7.0" transform="rotate(-8.0 1290.0 234.5)" stroke-width="1.0" fill="none"/>
<path d="M1287,262 L1287,276 C1295,282 1318,282 1325.7,276 L1325.7,262" stroke-width="1.1" fill="#fff"/>
<ellipse cx="1306.3" cy="262.0" rx="19.3" ry="6.0" transform="rotate(0.0 1306.3 262.0)" stroke-width="1.1" fill="#fff"/>
<ellipse cx="1307.0" cy="258.5" rx="7.5" ry="2.5" transform="rotate(0.0 1307.0 258.5)" stroke-width="1.0" fill="#fff"/>
<path d="M1299.6,246.7 L1299.6,260 M1315,244 L1315,260" stroke-width="1.0" />
<path d="M1287,265 L1292,266 L1292,270 L1287,269 Z" stroke-width="1.5" fill="#000"/>
<path d="M1350,206 L1358,200.2 L1370,210 L1374,228 L1368,243.3 L1357,238 L1350,225 Z" stroke-width="1.1" fill="#fff"/>
<path d="M1358,212 L1368,218 L1364,238" stroke-width="0.9" />
<path d="M1342,217 L1357,213 L1360,230 L1345,234 Z" stroke-width="1" fill="#111"/>
<ellipse cx="1342.5" cy="225.5" rx="4.0" ry="8.5" transform="rotate(-10.0 1342.5 225.5)" stroke-width="1.1" fill="#fff"/>
<ellipse cx="1308.0" cy="297.7" rx="16.0" ry="5.5" transform="rotate(0.0 1308.0 297.7)" stroke-width="1.2" fill="none"/>
<ellipse cx="1308.0" cy="297.7" rx="11.5" ry="3.3" transform="rotate(0.0 1308.0 297.7)" stroke-width="1.0" fill="none"/>
<path d="M1787,205.9 L1801.5,202.5 C1810,207 1815,214 1814.2,221.2 C1814,228 1812,233 1810,235.7 L1792,240.8 Z" stroke-width="1.1" fill="#fff"/>
<ellipse cx="1788.7" cy="222.9" rx="11.5" ry="17.5" transform="rotate(-18.0 1788.7 222.9)" stroke-width="1.3" fill="#fff"/>
<path d="M1795,208 C1801,214 1802,232 1797,240" stroke-width="0.9" />
<ellipse cx="1827.4" cy="203.8" rx="4.0" ry="6.0" transform="rotate(-15.0 1827.4 203.8)" stroke-width="1.1" fill="none"/>
<ellipse cx="1827.4" cy="203.8" rx="2.0" ry="3.5" transform="rotate(-15.0 1827.4 203.8)" stroke-width="0.9" fill="none"/>
<path d="M1843,190 L1861,185 C1866,188 1866,197 1862,200 L1855.5,203 L1855.5,208.5 L1858.9,208.5 L1858.9,212.7 L1855.5,212.7 L1855.5,219.5 L1847,219.5 L1847,212.7 L1844,212.7 L1844,208.5 L1847,208.5 L1847,202.5 Z" stroke-width="1.0" fill="#fff"/>
<ellipse cx="1843.1" cy="196.6" rx="4.5" ry="6.0" transform="rotate(-15.0 1843.1 196.6)" stroke-width="1.1" fill="#fff"/>
<ellipse cx="1843.5" cy="196.6" rx="2.3" ry="3.5" transform="rotate(-15.0 1843.5 196.6)" stroke-width="0.9" fill="none"/>
<path d="M1881,178 L1890,173.2 L1898.8,182 L1898.8,193 L1889,197.8 L1880.5,190 Z" stroke-width="1.1" fill="#fff"/>
<ellipse cx="1885.5" cy="187.0" rx="5.5" ry="5.5" transform="rotate(0.0 1885.5 187.0)" stroke-width="1" fill="#111"/>
<ellipse cx="1851.4" cy="233.7" rx="6.5" ry="2.7" transform="rotate(0.0 1851.4 233.7)" stroke-width="1.6" fill="none"/>
<ellipse cx="1851.4" cy="233.7" rx="3.5" ry="1.3" transform="rotate(0.0 1851.4 233.7)" stroke-width="1.0" fill="none"/>
<ellipse cx="1851.4" cy="289.2" rx="6.5" ry="2.5" transform="rotate(0.0 1851.4 289.2)" stroke-width="1.6" fill="none"/>
<ellipse cx="1851.4" cy="289.2" rx="3.5" ry="1.3" transform="rotate(0.0 1851.4 289.2)" stroke-width="1.0" fill="none"/>
<path d="M1838.5,249 L1838.5,276 C1845,280 1858,280 1864,276 L1864,249" stroke-width="1.1" fill="#fff"/>
<ellipse cx="1851.2" cy="249.0" rx="12.8" ry="4.0" transform="rotate(0.0 1851.2 249.0)" stroke-width="1.1" fill="#fff"/>
<ellipse cx="1851.2" cy="248.5" rx="4.5" ry="1.6" transform="rotate(0.0 1851.2 248.5)" stroke-width="1.0" fill="none"/>
<ellipse cx="1290.0" cy="397.6" rx="55.5" ry="14.7" transform="rotate(0.0 1290.0 397.6)" stroke-width="1.1" fill="#fff"/>
<path d="M1241.5,403 L1241.5,398 L1264,379 C1275,376 1290,376 1300,377 L1342,392 L1344.6,396 L1336,402 C1310,402 1275,405 1258.7,408 L1248,406 Z" stroke-width="1.0" fill="#fff"/>
<path d="M1258.7,408 L1258.7,402 C1275,399 1310,397 1336,397 L1336,402" stroke-width="1.0" />
<path d="M1241.5,398 C1248,398 1256,400 1258.7,402 M1336,397 L1344.6,392" stroke-width="0.9" />
<ellipse cx="1288.8" cy="385.8" rx="15.0" ry="5.0" transform="rotate(0.0 1288.8 385.8)" stroke-width="1.2" fill="#333"/>
<ellipse cx="1288.8" cy="385.8" rx="10.5" ry="3.0" transform="rotate(0.0 1288.8 385.8)" stroke-width="0.8" fill="#111"/>
<path d="M1220,449 C1220,440 1250,433.8 1289,433.8 C1328,433.8 1358.2,440 1358.2,449 C1358,456 1352,462 1347.5,465 L1347.5,479 C1330,487 1310,488.2 1289,488.2 C1265,488.2 1245,486 1233,479 L1233,465 C1226,461 1220,455 1220,449 Z" stroke-width="1.2" fill="#fff"/>
<ellipse cx="1289.0" cy="447.5" rx="66.0" ry="12.5" transform="rotate(0.0 1289.0 447.5)" stroke-width="1.1" fill="none"/>
<ellipse cx="1289.0" cy="448.5" rx="56.0" ry="10.0" transform="rotate(0.0 1289.0 448.5)" stroke-width="1.0" fill="#fff"/>
<path d="M1240,452 C1255,460 1275,462 1289,462 C1305,462 1325,460 1338,452" stroke-width="2.2" stroke="#555"/>
<path d="M1305.9,457.6 L1343.8,448.3" stroke-width="0.8" />
<path d="M1305.4,457.1 L1342.1,446.9" stroke-width="0.8" />
<path d="M1304.4,456.6 L1338.8,445.6" stroke-width="0.8" />
<path d="M1302.9,456.2 L1334.1,444.4" stroke-width="0.8" />
<path d="M1301.0,455.8 L1327.9,443.3" stroke-width="0.8" />
<path d="M1298.8,455.4 L1320.5,442.4" stroke-width="0.8" />
<path d="M1296.2,455.2 L1312.2,441.7" stroke-width="0.8" />
<path d="M1293.4,455.0 L1303.2,441.3" stroke-width="0.8" />
<path d="M1290.5,454.9 L1293.8,441.0" stroke-width="0.8" />
<path d="M1287.5,454.9 L1284.2,441.0" stroke-width="0.8" />
<path d="M1284.6,455.0 L1274.8,441.3" stroke-width="0.8" />
<path d="M1281.8,455.2 L1265.8,441.7" stroke-width="0.8" />
<path d="M1279.2,455.4 L1257.5,442.4" stroke-width="0.8" />
<path d="M1277.0,455.8 L1250.1,443.3" stroke-width="0.8" />
<path d="M1275.1,456.2 L1243.9,444.4" stroke-width="0.8" />
<path d="M1273.6,456.6 L1239.2,445.6" stroke-width="0.8" />
<path d="M1272.6,457.1 L1235.9,446.9" stroke-width="0.8" />
<path d="M1272.1,457.6 L1234.2,448.3" stroke-width="0.8" />
<ellipse cx="1289.6" cy="457.9" rx="16.5" ry="4.0" transform="rotate(0.0 1289.6 457.9)" stroke-width="1.0" fill="#fff"/>
<path d="M1222,454 C1240,466 1265,469 1289,469 C1313,469 1338,466 1356,454" stroke-width="1.0" />
<path d="M1242,473 L1256,475 L1256,480 L1242,478 Z M1296,477 L1312,476 L1312,481 L1296,482 Z" stroke-width="1.0" />
<ellipse cx="1289.5" cy="526.8" rx="58.7" ry="17.2" transform="rotate(0.0 1289.5 526.8)" stroke-width="1.2" fill="none"/>
<ellipse cx="1289.2" cy="527.3" rx="51.2" ry="10.7" transform="rotate(0.0 1289.2 527.3)" stroke-width="1.0" fill="none"/>
<path d="M1236,605 L1236,611 C1250,623 1330,623 1349.6,611 L1349.6,605" stroke-width="1.1" fill="#fff"/>
<ellipse cx="1292.7" cy="604.0" rx="56.9" ry="14.0" transform="rotate(0.0 1292.7 604.0)" stroke-width="1.1" fill="#fff"/>
<ellipse cx="1292.7" cy="598.0" rx="49.5" ry="12.5" transform="rotate(0.0 1292.7 598.0)" stroke-width="1.0" fill="#fff"/>
<path d="M1279,560.5 L1279,582 Q1292.7,587 1306.7,582 L1306.7,560.5 Z" stroke-width="1.0" fill="#fff"/>
<path d="M1279,563.0 Q1292.7,566.5 1306.7,563.0" stroke-width="0.9" stroke="#222"/>
<path d="M1279,565.6 Q1292.7,569.1 1306.7,565.6" stroke-width="0.9" stroke="#222"/>
<path d="M1279,568.2 Q1292.7,571.7 1306.7,568.2" stroke-width="0.9" stroke="#222"/>
<path d="M1279,570.8 Q1292.7,574.3 1306.7,570.8" stroke-width="0.9" stroke="#222"/>
<path d="M1279,573.4 Q1292.7,576.9 1306.7,573.4" stroke-width="0.9" stroke="#222"/>
<path d="M1279,576.0 Q1292.7,579.5 1306.7,576.0" stroke-width="0.9" stroke="#222"/>
<path d="M1279,578.6 Q1292.7,582.1 1306.7,578.6" stroke-width="0.9" stroke="#222"/>
<path d="M1279,581.2 Q1292.7,584.7 1306.7,581.2" stroke-width="0.9" stroke="#222"/>
<path d="M1281,583 L1281,587 Q1292.7,591 1304.5,587 L1304.5,583" stroke-width="1.0" />
<path d="M1285.2,553 L1285.2,560 Q1292,563 1298.8,560 L1298.8,553 Z" stroke-width="1.0" fill="#777"/>
<ellipse cx="1292.0" cy="553.0" rx="6.8" ry="2.0" transform="rotate(0.0 1292.0 553.0)" stroke-width="1.0" fill="#999"/>
<path d="M1760,482 C1760,466 1800,453 1846,453 C1892,453 1932.5,466 1932.5,482 L1930,492 C1926,505 1900,516 1846,518 C1792,516 1766,505 1762,492 Z" stroke-width="1.1" fill="#fff"/>
<ellipse cx="1846.0" cy="478.0" rx="82.0" ry="21.0" transform="rotate(0.0 1846.0 478.0)" stroke-width="1.0" fill="none"/>
<path d="M1762,490 C1775,505 1810,510 1846,510 C1880,510 1915,505 1930,490" stroke-width="1.0" />
<ellipse cx="1845.0" cy="470.0" rx="8.0" ry="3.0" transform="rotate(0.0 1845.0 470.0)" stroke-width="1.3" fill="#222"/>
<ellipse cx="1845.0" cy="481.8" rx="8.0" ry="3.0" transform="rotate(0.0 1845.0 481.8)" stroke-width="1.3" fill="#222"/>
<path d="M1790,496 L1808,500 L1808,507 L1790,503 Z M1872,505 L1894,499 L1894,506 L1872,511 Z" stroke-width="0.9" />
<path d="M1778,430 C1790,420 1815,418 1830,418 L1870,418 C1885,420 1905,422 1906,430 L1906,436 C1895,440 1880,440 1872,446 L1872,458 C1860,462 1830,462 1822,456 L1822,446 C1805,440 1785,440 1778,436 Z" stroke-width="1.1" fill="#fff"/>
<ellipse cx="1845.0" cy="425.0" rx="12.0" ry="4.5" transform="rotate(0.0 1845.0 425.0)" stroke-width="1.0" fill="none"/>
<path d="M1822,446 C1832,452 1860,452 1872,446" stroke-width="0.9" />
<ellipse cx="1845.6" cy="534.4" rx="73.0" ry="19.4" transform="rotate(0.0 1845.6 534.4)" stroke-width="1.2" fill="none"/>
<ellipse cx="1845.6" cy="534.4" rx="67.0" ry="13.5" transform="rotate(0.0 1845.6 534.4)" stroke-width="1.0" fill="none"/>
<path d="M1842.5,545 L1842.5,572 M1850,545 L1850,572" stroke-width="1.0" />
<ellipse cx="1846.0" cy="574.0" rx="6.0" ry="2.5" transform="rotate(0.0 1846.0 574.0)" stroke-width="1.0" fill="none"/>
<path d="M1775,590 L1775,600 C1790,612 1900,612 1916,600 L1916,590" stroke-width="1.1" fill="#fff"/>
<ellipse cx="1845.6" cy="590.0" rx="70.6" ry="16.0" transform="rotate(0.0 1845.6 590.0)" stroke-width="1.1" fill="#fff"/>
<ellipse cx="1845.6" cy="583.0" rx="59.0" ry="13.0" transform="rotate(0.0 1845.6 583.0)" stroke-width="1.0" fill="#fff"/>
<path d="M1402.7,905 C1406,925 1440,933.3 1479,933.3 C1518,933.3 1552,925 1556,905" stroke-width="1.1" />
<path d="M1404,910 C1410,927 1440,930 1479,930 C1518,930 1548,927 1554,910" stroke-width="0.8" />
<path d="M1395.8999999999999,905.2 L1395.8999999999999,919.2 L1400.3,919.2 L1400.3,905.2" stroke-width="1.0" fill="#fff"/>
<path d="M1417.5,915.4 L1417.5,929.4 L1421.9,929.4 L1421.9,915.4" stroke-width="1.0" fill="#fff"/>
<path d="M1455.5,920.5 L1455.5,934.5 L1459.9,934.5 L1459.9,920.5" stroke-width="1.0" fill="#fff"/>
<path d="M1498.5,920.5 L1498.5,934.5 L1502.9,934.5 L1502.9,920.5" stroke-width="1.0" fill="#fff"/>
<path d="M1536.0,914.2 L1536.0,928.2 L1540.4,928.2 L1540.4,914.2" stroke-width="1.0" fill="#fff"/>
<path d="M1556.8999999999999,904.6 L1556.8999999999999,918.6 L1561.3,918.6 L1561.3,904.6" stroke-width="1.0" fill="#fff"/>
<path d="M1386.2,879 L1386.5,890 C1395,908 1435,919.2 1479,919.2 C1523,919.2 1563,908 1571.5,890 L1571.8,879 Z" stroke-width="1.3" fill="#fff"/>
<ellipse cx="1479.0" cy="879.0" rx="92.8" ry="21.6" transform="rotate(0.0 1479.0 879.0)" stroke-width="1.3" fill="#fff"/>
<ellipse cx="1479.0" cy="880.5" rx="85.0" ry="17.5" transform="rotate(0.0 1479.0 880.5)" stroke-width="1.0" fill="none"/>
<ellipse cx="1479.0" cy="884.0" rx="73.0" ry="13.0" transform="rotate(0.0 1479.0 884.0)" stroke-width="1.2" fill="none"/>
<ellipse cx="1479.0" cy="892.0" rx="60.0" ry="9.0" transform="rotate(0.0 1479.0 892.0)" stroke-width="1.1" fill="none"/>
<path d="M1418,878 L1448,870 L1449,874 L1419,882 Z M1470,867 L1518,868 L1518,872 L1470,871 Z M1537,872 L1550,879 L1549,883 L1536,876 Z" stroke-width="0.9" fill="#fff"/>
<path d="M1434,898 L1438,896 L1438,900 M1552,882 L1556,882 L1556,886 L1552,886 Z" stroke-width="0.9" />
<ellipse cx="1420.2" cy="935.6" rx="4.2" ry="2.2" transform="rotate(0.0 1420.2 935.6)" stroke-width="1.0" fill="#333"/>
<ellipse cx="1420.2" cy="935.3" rx="2.0" ry="0.8" transform="rotate(0.0 1420.2 935.3)" stroke-width="0.6" fill="#888"/>
<ellipse cx="1537.8" cy="934.9" rx="4.2" ry="2.2" transform="rotate(0.0 1537.8 934.9)" stroke-width="1.0" fill="#333"/>
<ellipse cx="1537.8" cy="934.6" rx="2.0" ry="0.8" transform="rotate(0.0 1537.8 934.6)" stroke-width="0.6" fill="#888"/>
<ellipse cx="1398.3" cy="945.3" rx="4.2" ry="2.2" transform="rotate(0.0 1398.3 945.3)" stroke-width="1.0" fill="#333"/>
<ellipse cx="1398.3" cy="945.0" rx="2.0" ry="0.8" transform="rotate(0.0 1398.3 945.0)" stroke-width="0.6" fill="#888"/>
<ellipse cx="1559.8" cy="944.1" rx="4.2" ry="2.2" transform="rotate(0.0 1559.8 944.1)" stroke-width="1.0" fill="#333"/>
<ellipse cx="1559.8" cy="943.8" rx="2.0" ry="0.8" transform="rotate(0.0 1559.8 943.8)" stroke-width="0.6" fill="#888"/>
<ellipse cx="1398.3" cy="956.9" rx="4.2" ry="2.2" transform="rotate(0.0 1398.3 956.9)" stroke-width="1.0" fill="#333"/>
<ellipse cx="1398.3" cy="956.6" rx="2.0" ry="0.8" transform="rotate(0.0 1398.3 956.6)" stroke-width="0.6" fill="#888"/>
<ellipse cx="1559.8" cy="955.7" rx="4.2" ry="2.2" transform="rotate(0.0 1559.8 955.7)" stroke-width="1.0" fill="#333"/>
<ellipse cx="1559.8" cy="955.4" rx="2.0" ry="0.8" transform="rotate(0.0 1559.8 955.4)" stroke-width="0.6" fill="#888"/>
<ellipse cx="1420.2" cy="966.5" rx="4.2" ry="2.2" transform="rotate(0.0 1420.2 966.5)" stroke-width="1.0" fill="#333"/>
<ellipse cx="1420.2" cy="966.2" rx="2.0" ry="0.8" transform="rotate(0.0 1420.2 966.2)" stroke-width="0.6" fill="#888"/>
<ellipse cx="1537.8" cy="965.7" rx="4.2" ry="2.2" transform="rotate(0.0 1537.8 965.7)" stroke-width="1.0" fill="#333"/>
<ellipse cx="1537.8" cy="965.4" rx="2.0" ry="0.8" transform="rotate(0.0 1537.8 965.4)" stroke-width="0.6" fill="#888"/>
<ellipse cx="1456.9" cy="971.5" rx="4.2" ry="2.2" transform="rotate(0.0 1456.9 971.5)" stroke-width="1.0" fill="#333"/>
<ellipse cx="1456.9" cy="971.2" rx="2.0" ry="0.8" transform="rotate(0.0 1456.9 971.2)" stroke-width="0.6" fill="#888"/>
<ellipse cx="1501.2" cy="971.5" rx="4.2" ry="2.2" transform="rotate(0.0 1501.2 971.5)" stroke-width="1.0" fill="#333"/>
<ellipse cx="1501.2" cy="971.2" rx="2.0" ry="0.8" transform="rotate(0.0 1501.2 971.2)" stroke-width="0.6" fill="#888"/>
<ellipse cx="1480.0" cy="1016.6" rx="85.6" ry="23.0" transform="rotate(0.0 1480.0 1016.6)" stroke-width="1.6" fill="none"/>
<ellipse cx="1480.0" cy="1016.6" rx="81.0" ry="19.5" transform="rotate(0.0 1480.0 1016.6)" stroke-width="1.0" fill="none"/>
<path d="M1417.4,1070.3 L1418.4,1067.8 L1424.4,1067.8 L1425.4,1070.3 L1425.4,1073.8 L1417.4,1073.8 Z" stroke-width="1.0" fill="#fff"/>
<ellipse cx="1421.4" cy="1069.8" rx="2.2" ry="1.2" transform="rotate(0.0 1421.4 1069.8)" stroke-width="1.0" fill="#222"/>
<path d="M1453.6,1064.6 L1454.6,1062.1 L1460.6,1062.1 L1461.6,1064.6 L1461.6,1068.1 L1453.6,1068.1 Z" stroke-width="1.0" fill="#fff"/>
<ellipse cx="1457.6" cy="1064.1" rx="2.2" ry="1.2" transform="rotate(0.0 1457.6 1064.1)" stroke-width="1.0" fill="#222"/>
<path d="M1497.2,1064.6 L1498.2,1062.1 L1504.2,1062.1 L1505.2,1064.6 L1505.2,1068.1 L1497.2,1068.1 Z" stroke-width="1.0" fill="#fff"/>
<ellipse cx="1501.2" cy="1064.1" rx="2.2" ry="1.2" transform="rotate(0.0 1501.2 1064.1)" stroke-width="1.0" fill="#222"/>
<path d="M1534.6,1069.6 L1535.6,1067.1 L1541.6,1067.1 L1542.6,1069.6 L1542.6,1073.1 L1534.6,1073.1 Z" stroke-width="1.0" fill="#fff"/>
<ellipse cx="1538.6" cy="1069.1" rx="2.2" ry="1.2" transform="rotate(0.0 1538.6 1069.1)" stroke-width="1.0" fill="#222"/>
<path d="M1395,1080.4 L1396,1077.9 L1402,1077.9 L1403,1080.4 L1403,1083.9 L1395,1083.9 Z" stroke-width="1.0" fill="#fff"/>
<ellipse cx="1399.0" cy="1079.9" rx="2.2" ry="1.2" transform="rotate(0.0 1399.0 1079.9)" stroke-width="1.0" fill="#222"/>
<path d="M1555.8,1079.2 L1556.8,1076.7 L1562.8,1076.7 L1563.8,1079.2 L1563.8,1082.7 L1555.8,1082.7 Z" stroke-width="1.0" fill="#fff"/>
<ellipse cx="1559.8" cy="1078.7" rx="2.2" ry="1.2" transform="rotate(0.0 1559.8 1078.7)" stroke-width="1.0" fill="#222"/>
<path d="M1395,1091.2 L1396,1088.7 L1402,1088.7 L1403,1091.2 L1403,1094.7 L1395,1094.7 Z" stroke-width="1.0" fill="#fff"/>
<ellipse cx="1399.0" cy="1090.7" rx="2.2" ry="1.2" transform="rotate(0.0 1399.0 1090.7)" stroke-width="1.0" fill="#222"/>
<path d="M1555.8,1090 L1556.8,1087.5 L1562.8,1087.5 L1563.8,1090 L1563.8,1093.5 L1555.8,1093.5 Z" stroke-width="1.0" fill="#fff"/>
<ellipse cx="1559.8" cy="1089.5" rx="2.2" ry="1.2" transform="rotate(0.0 1559.8 1089.5)" stroke-width="1.0" fill="#222"/>
<path d="M1417.4,1101.2 L1418.4,1098.7 L1424.4,1098.7 L1425.4,1101.2 L1425.4,1104.7 L1417.4,1104.7 Z" stroke-width="1.0" fill="#fff"/>
<ellipse cx="1421.4" cy="1100.7" rx="2.2" ry="1.2" transform="rotate(0.0 1421.4 1100.7)" stroke-width="1.0" fill="#222"/>
<path d="M1453.6,1106.2 L1454.6,1103.7 L1460.6,1103.7 L1461.6,1106.2 L1461.6,1109.7 L1453.6,1109.7 Z" stroke-width="1.0" fill="#fff"/>
<ellipse cx="1457.6" cy="1105.7" rx="2.2" ry="1.2" transform="rotate(0.0 1457.6 1105.7)" stroke-width="1.0" fill="#222"/>
<path d="M1497.2,1106.2 L1498.2,1103.7 L1504.2,1103.7 L1505.2,1106.2 L1505.2,1109.7 L1497.2,1109.7 Z" stroke-width="1.0" fill="#fff"/>
<ellipse cx="1501.2" cy="1105.7" rx="2.2" ry="1.2" transform="rotate(0.0 1501.2 1105.7)" stroke-width="1.0" fill="#222"/>
<path d="M1534.6,1100.4 L1535.6,1097.9 L1541.6,1097.9 L1542.6,1100.4 L1542.6,1103.9 L1534.6,1103.9 Z" stroke-width="1.0" fill="#fff"/>
<ellipse cx="1538.6" cy="1099.9" rx="2.2" ry="1.2" transform="rotate(0.0 1538.6 1099.9)" stroke-width="1.0" fill="#222"/>
<path d="M1483.3,2207 Q1487.5,2204 1491.7,2207 L1491.7,2236 L1483.3,2236 Z" stroke-width="1.0" fill="#111"/>
<path d="M1479,2236 L1482,2234.5 L1494,2234.5 L1496.8,2236 L1496.8,2242 L1494,2243.5 L1482,2243.5 L1479,2242 Z" stroke-width="1.1" fill="#fff"/>
<path d="M1481.9,2243.5 L1494.5,2243.5 L1494.5,2254 Q1488,2258 1481.9,2254 Z" stroke-width="1.0" fill="#111"/>
<ellipse cx="1488.2" cy="2253.5" rx="4.5" ry="1.8" transform="rotate(0.0 1488.2 2253.5)" stroke-width="0.9" fill="#fff"/>
<ellipse cx="1488.4" cy="2277.3" rx="8.4" ry="5.0" transform="rotate(0.0 1488.4 2277.3)" stroke-width="1.2" fill="none"/>
<ellipse cx="1488.4" cy="2277.3" rx="6.0" ry="3.2" transform="rotate(0.0 1488.4 2277.3)" stroke-width="1.0" fill="none"/>
<ellipse cx="1488.4" cy="2277.3" rx="3.5" ry="1.6" transform="rotate(0.0 1488.4 2277.3)" stroke-width="0.9" fill="none"/>
<path d="M1476.3,2300 L1480,2295 L1497,2295 L1501,2300 L1501,2307.6 L1476.3,2307.6 Z" stroke-width="1.1" fill="#fff"/>
<path d="M1482,2295 L1482,2307.6 M1495,2295 L1495,2307.6" stroke-width="0.9" />
<path d="M1476.3,2307.6 L1479,2315 Q1488.6,2322 1498.5,2315 L1501,2307.6" stroke-width="1.2" fill="#fff"/>
<ellipse cx="1488.9" cy="2314.4" rx="6.5" ry="3.8" transform="rotate(0.0 1488.9 2314.4)" stroke-width="1.2" fill="#111"/>
<ellipse cx="1489.8" cy="2334.1" rx="8.4" ry="5.0" transform="rotate(0.0 1489.8 2334.1)" stroke-width="1.2" fill="none"/>
<ellipse cx="1489.8" cy="2334.1" rx="6.0" ry="3.2" transform="rotate(0.0 1489.8 2334.1)" stroke-width="1.0" fill="none"/>
<ellipse cx="1489.8" cy="2334.1" rx="3.5" ry="1.6" transform="rotate(0.0 1489.8 2334.1)" stroke-width="0.9" fill="none"/>
<path d="M1485,2351 Q1489,2343 1493,2351 Z" stroke-width="1.0" fill="#111"/>
<path d="M1478,2352 L1484,2350 L1489,2352 L1494,2350 L1499.6,2352 L1498,2360 L1489,2365.3 L1480,2360 Z" stroke-width="1.2" fill="#fff"/>
<ellipse cx="1489.0" cy="2357.5" rx="5.0" ry="2.8" transform="rotate(0.0 1489.0 2357.5)" stroke-width="1.0" fill="none"/>
<path d="M1020,1697 L1040,1689 L1046,1689.5 C1054,1699 1058,1714 1057.2,1730 C1056.5,1740 1052,1746 1046,1748 L1028,1751 Z" stroke-width="1.3" fill="#fff"/>
<path d="M1007,1699 L1034,1689 C1043,1700 1047,1735 1040,1750 L1016,1750 Z" stroke-width="1.0" fill="#444"/>
<path d="M1012.0,1698.0 L1038,1694.0" stroke-width="1.4" stroke="#ccc"/>
<path d="M1012.5,1705.5 L1038,1701.5" stroke-width="1.4" stroke="#ccc"/>
<path d="M1013.0,1713.0 L1038,1709.0" stroke-width="1.4" stroke="#ccc"/>
<path d="M1013.5,1720.5 L1038,1716.5" stroke-width="1.4" stroke="#ccc"/>
<path d="M1014.0,1728.0 L1038,1724.0" stroke-width="1.4" stroke="#ccc"/>
<path d="M1014.5,1735.5 L1038,1731.5" stroke-width="1.4" stroke="#ccc"/>
<path d="M1015.0,1743.0 L1038,1739.0" stroke-width="1.4" stroke="#ccc"/>
<path d="M1039,1690 C1047,1702 1050,1735 1042,1750" stroke-width="1.6" />
<path d="M1046,1694 L1055,1695.5 L1055,1700.5 L1046,1699 Z" stroke-width="1.1" />
<path d="M1046,1703 L1055,1704.5 L1055,1710.0 L1046,1708.5 Z" stroke-width="1.1" />
<path d="M1046,1714 L1055,1715.5 L1055,1721.5 L1046,1720 Z" stroke-width="1.1" />
<path d="M1046,1726 L1055,1727.5 L1055,1733.5 L1046,1732 Z" stroke-width="1.1" />
<path d="M1046,1737 L1055,1738.5 L1055,1743.5 L1046,1742 Z" stroke-width="1.1" />
<ellipse cx="1014.0" cy="1722.8" rx="12.8" ry="25.5" transform="rotate(-15.0 1014.0 1722.8)" stroke-width="1.6" fill="#fff"/>
<ellipse cx="1015.0" cy="1723.0" rx="10.0" ry="21.0" transform="rotate(-15.0 1015.0 1723.0)" stroke-width="1.2" fill="none"/>
<ellipse cx="1016.0" cy="1723.0" rx="7.5" ry="17.0" transform="rotate(-15.0 1016.0 1723.0)" stroke-width="1.0" fill="none"/>
<path d="M1075,1686 L1090,1683 C1098,1690 1102,1705 1101.6,1716 C1101,1726 1097,1731 1088,1731.4 L1077,1733 Z" stroke-width="1.1" fill="#fff"/>
<ellipse cx="1078.9" cy="1709.8" rx="10.0" ry="23.5" transform="rotate(-18.0 1078.9 1709.8)" stroke-width="1.2" fill="#fff"/>
<ellipse cx="1080.5" cy="1709.8" rx="6.5" ry="18.5" transform="rotate(-18.0 1080.5 1709.8)" stroke-width="1.0" fill="none"/>
<path d="M1088,1685 C1096,1695 1098,1720 1090,1731 M1092,1684 C1100,1695 1102,1720 1094,1731" stroke-width="0.9" />
</g>
<g fill="none" stroke="#1a8cc8" stroke-width="2.4">
<ellipse cx="1284.2" cy="247.3" rx="119.3" ry="78.8" transform="rotate(-4 1284.2 247.3)"/>
<ellipse cx="1289.5" cy="497.5" rx="102.5" ry="151" transform="rotate(0 1289.5 497.5)"/>
<ellipse cx="1851.9" cy="220.7" rx="83.6" ry="76.2" transform="rotate(0 1851.9 220.7)"/>
<ellipse cx="1845.75" cy="516.25" rx="102.5" ry="121.25" transform="rotate(0 1845.75 516.25)"/>
<ellipse cx="417" cy="729.5" rx="272" ry="224.6" transform="rotate(-47 417 729.5)"/>
<ellipse cx="563" cy="1358.3" rx="376.7" ry="165.3" transform="rotate(0 563 1358.3)"/>
<ellipse cx="1053" cy="1715" rx="68.7" ry="42.4" transform="rotate(-13.9 1053 1715)"/>
<ellipse cx="1478.6" cy="982.9" rx="140" ry="159" transform="rotate(0 1478.6 982.9)"/>
<ellipse cx="1489" cy="2285.5" rx="26.8" ry="88.8" transform="rotate(0 1489 2285.5)"/>
<line x1="1102.7" y1="140.2" x2="1202.5" y2="242.8"/>
<line x1="1102.7" y1="140.2" x2="1267.5" y2="235.6"/>
<line x1="1115.8" y1="287" x2="1167.8" y2="270.3"/>
<line x1="1116" y1="439.5" x2="1189.5" y2="460"/>
<line x1="1118.75" y1="540.5" x2="1233" y2="527.5"/>
<line x1="1651.9" y1="135" x2="1788" y2="222.6"/>
<line x1="1651.9" y1="135" x2="1827.9" y2="202"/>
<line x1="1659" y1="270.3" x2="1772.7" y2="252"/>
<line x1="1658" y1="429.25" x2="1760" y2="448"/>
<line x1="1660" y1="552.5" x2="1777" y2="535"/>
<line x1="103.75" y1="472.5" x2="325" y2="479.5"/>
<line x1="100.5" y1="611.25" x2="203.75" y2="648.75"/>
<line x1="783" y1="498.75" x2="515.25" y2="543"/>
<line x1="102.9" y1="999.2" x2="450.6" y2="1094"/>
<line x1="103.7" y1="1254.9" x2="224" y2="1284.4"/>
<line x1="214.3" y1="1535.5" x2="323" y2="1430.6"/>
<line x1="214.3" y1="1535.5" x2="412.7" y2="1459"/>
<line x1="532" y1="1661.5" x2="677.4" y2="1408"/>
<line x1="625.7" y1="1700" x2="731.3" y2="1405"/>
<line x1="726.5" y1="1742" x2="836.2" y2="1391"/>
<line x1="876.5" y1="1809" x2="985.4" y2="1731.4"/>
<line x1="1048.3" y1="1873" x2="1081.8" y2="1719.4"/>
<line x1="1896.3" y1="898.3" x2="1611.8" y2="924.9"/>
<line x1="1897.1" y1="1039.7" x2="1561" y2="1017.4"/>
<line x1="1898.1" y1="1837.1" x2="1714.8" y2="1899"/>
<line x1="1897.1" y1="2201.4" x2="1516.2" y2="2283.8"/>
</g>
<g fill="none" stroke="#000" stroke-width="1.8">
<circle cx="1066.7" cy="103.9" r="51"/>
<circle cx="1066.6" cy="304.4" r="51"/>
<circle cx="1067" cy="425" r="51"/>
<circle cx="1067.5" cy="546" r="51"/>
<circle cx="1607.6" cy="106.1" r="51"/>
<circle cx="1607.6" cy="279.2" r="51"/>
<circle cx="1607.5" cy="418.75" r="51"/>
<circle cx="1608.75" cy="560" r="51"/>
<circle cx="52.5" cy="470.75" r="51"/>
<circle cx="52.5" cy="593" r="51"/>
<circle cx="832.25" cy="490.5" r="51"/>
<circle cx="53" cy="984.2" r="51"/>
<circle cx="52.2" cy="1242.4" r="51"/>
<circle cx="172.9" cy="1572.3" r="51"/>
<circle cx="507.5" cy="1707.1" r="51"/>
<circle cx="608.7" cy="1750" r="51"/>
<circle cx="711" cy="1791.3" r="51"/>
<circle cx="834.8" cy="1840" r="51"/>
<circle cx="1037.2" cy="1923.4" r="51"/>
<circle cx="1947.2" cy="893.2" r="51"/>
<circle cx="1947.2" cy="1042.8" r="51"/>
<circle cx="1948.1" cy="1820.5" r="51"/>
<circle cx="1948.1" cy="2190.5" r="51"/>
</g>
<path d="M763,0 L583,0 L583,1147 Q518,1085 412,1023 Q306,961 223,930 L223,1104 Q373,1175 485,1276 Q597,1377 644,1472 L763,1472 Z" transform="translate(1046.10,130.70) scale(0.03564,-0.03564)" fill="#000"/>
<text class="n" x="1046.00" y="331.20">2</text>
<text class="n" x="1046.40" y="451.80">3</text>
<text class="n" x="1046.90" y="572.80">4</text>
<path d="M763,0 L583,0 L583,1147 Q518,1085 412,1023 Q306,961 223,930 L223,1104 Q373,1175 485,1276 Q597,1377 644,1472 L763,1472 Z" transform="translate(1587.00,132.90) scale(0.03564,-0.03564)" fill="#000"/>
<text class="n" x="1587.00" y="306.00">2</text>
<text class="n" x="1586.90" y="445.55">3</text>
<text class="n" x="1588.15" y="586.80">4</text>
<path d="M763,0 L583,0 L583,1147 Q518,1085 412,1023 Q306,961 223,930 L223,1104 Q373,1175 485,1276 Q597,1377 644,1472 L763,1472 Z" transform="translate(10.20,497.55) scale(0.03564,-0.03564)" fill="#000"/>
<text class="n" x="50.20" y="497.55">8</text>
<path d="M763,0 L583,0 L583,1147 Q518,1085 412,1023 Q306,961 223,930 L223,1104 Q373,1175 485,1276 Q597,1377 644,1472 L763,1472 Z" transform="translate(10.20,619.80) scale(0.03564,-0.03564)" fill="#000"/>
<text class="n" x="50.20" y="619.80">7</text>
<path d="M763,0 L583,0 L583,1147 Q518,1085 412,1023 Q306,961 223,930 L223,1104 Q373,1175 485,1276 Q597,1377 644,1472 L763,1472 Z" transform="translate(789.95,517.30) scale(0.03564,-0.03564)" fill="#000"/>
<text class="n" x="829.95" y="517.30">9</text>
<path d="M763,0 L583,0 L583,1147 Q518,1085 412,1023 Q306,961 223,930 L223,1104 Q373,1175 485,1276 Q597,1377 644,1472 L763,1472 Z" transform="translate(10.70,1011.00) scale(0.03564,-0.03564)" fill="#000"/>
<text class="n" x="50.70" y="1011.00">6</text>
<path d="M763,0 L583,0 L583,1147 Q518,1085 412,1023 Q306,961 223,930 L223,1104 Q373,1175 485,1276 Q597,1377 644,1472 L763,1472 Z" transform="translate(9.90,1269.20) scale(0.03564,-0.03564)" fill="#000"/>
<text class="n" x="49.90" y="1269.20">5</text>
<path d="M763,0 L583,0 L583,1147 Q518,1085 412,1023 Q306,961 223,930 L223,1104 Q373,1175 485,1276 Q597,1377 644,1472 L763,1472 Z" transform="translate(130.60,1599.10) scale(0.03564,-0.03564)" fill="#000"/>
<text class="n" x="170.60" y="1599.10">4</text>
<path d="M763,0 L583,0 L583,1147 Q518,1085 412,1023 Q306,961 223,930 L223,1104 Q373,1175 485,1276 Q597,1377 644,1472 L763,1472 Z" transform="translate(465.20,1733.90) scale(0.03564,-0.03564)" fill="#000"/>
<text class="n" x="505.20" y="1733.90">3</text>
<path d="M763,0 L583,0 L583,1147 Q518,1085 412,1023 Q306,961 223,930 L223,1104 Q373,1175 485,1276 Q597,1377 644,1472 L763,1472 Z" transform="translate(566.40,1776.80) scale(0.03564,-0.03564)" fill="#000"/>
<text class="n" x="606.40" y="1776.80">2</text>
<path d="M763,0 L583,0 L583,1147 Q518,1085 412,1023 Q306,961 223,930 L223,1104 Q373,1175 485,1276 Q597,1377 644,1472 L763,1472 Z" transform="translate(668.70,1818.10) scale(0.03564,-0.03564)" fill="#000"/>
<path d="M763,0 L583,0 L583,1147 Q518,1085 412,1023 Q306,961 223,930 L223,1104 Q373,1175 485,1276 Q597,1377 644,1472 L763,1472 Z" transform="translate(708.70,1818.10) scale(0.03564,-0.03564)" fill="#000"/>
<path d="M763,0 L583,0 L583,1147 Q518,1085 412,1023 Q306,961 223,930 L223,1104 Q373,1175 485,1276 Q597,1377 644,1472 L763,1472 Z" transform="translate(792.50,1866.80) scale(0.03564,-0.03564)" fill="#000"/>
<text class="n" x="832.50" y="1866.80">0</text>
<text class="n" x="1016.60" y="1950.20">9</text>
<text class="n" x="1926.60" y="920.00">5</text>
<text class="n" x="1926.60" y="1069.60">6</text>
<text class="n" x="1927.50" y="1847.30">7</text>
<text class="n" x="1927.50" y="2217.30">8</text>
<text x="1084" y="422" style="font-family:'Liberation Sans',sans-serif;font-size:44px;fill:#222;stroke:#222;stroke-width:0.4px">*</text>
</svg></body></html>
